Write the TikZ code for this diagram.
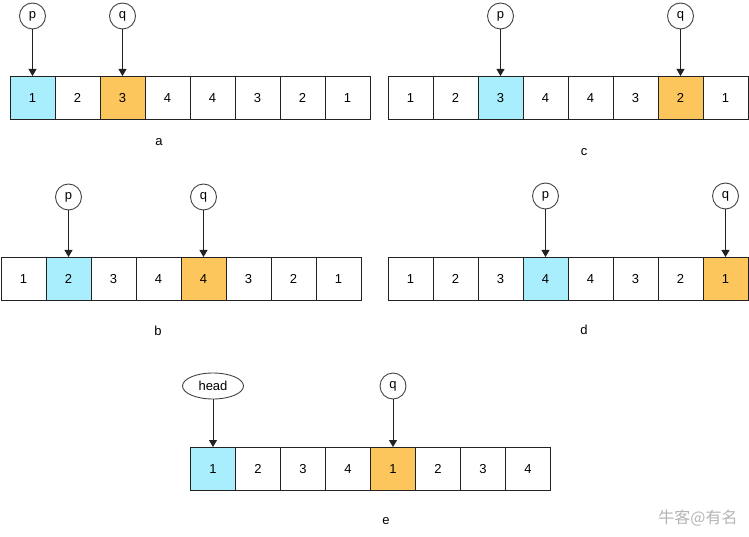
\documentclass[tikz,border=0pt]{standalone}
\usepackage{fontspec}
\setmainfont{Liberation Sans}
\newfontfamily\cjkfont{Noto Sans CJK SC}
\usetikzlibrary{arrows.meta, positioning, shapes.geometric}
\definecolor{ccyan}{HTML}{A9EEFC}
\definecolor{corange}{HTML}{FDC65D}
\definecolor{cline}{HTML}{222222}
\definecolor{cgrey}{HTML}{B4B4B4}
\tikzset{
  every picture/.style={font=\fontsize{13}{15}\selectfont, line width=0.9pt},
  cell/.style={draw=cline, fill=#1, minimum width=45pt, minimum height=43pt, inner sep=0pt, outer sep=0pt, text height=9.4pt, text depth=0pt},
  cell/.default=white,
  ptr/.style={circle, draw=cline!85, minimum size=26pt, inner sep=0pt, outer sep=0pt},
  headptr/.style={ellipse, draw=cline!85, minimum width=61pt, minimum height=26pt, inner sep=0pt, outer sep=0pt},
  arrow/.style={-{Triangle[length=7pt, width=8pt]}, draw=cline},
  caption/.style={font=\fontsize{13}{15}\selectfont},
}

\begin{document}
\begin{tikzpicture}[x=1pt, y=-1pt]
  \useasboundingbox (0,0) rectangle (749,537);
  % a
  \foreach \v/\c [count=\i] in {1/ccyan,2/white,3/corange,4/white,4/white,3/white,2/white,1/white}
    \node[cell=\c] (a\i) at ({10+45*\i-22.5},97.5) {\v};
  \node[ptr, above=47pt of a1] (pa) {p};
  \node[ptr, above=47pt of a3] (qa) {q};
  \draw[arrow] (pa) -- (a1);
  \draw[arrow] (qa) -- (a3);
  \node[caption] (la) at (159,142) {a};
  % c
  \foreach \v/\c [count=\i] in {1/white,2/white,3/ccyan,4/white,4/white,3/white,2/corange,1/white}
    \node[cell=\c] (c\i) at ({388+45*\i-22.5},97.5) {\v};
  \node[ptr, above=47pt of c3] (pc) {p};
  \node[ptr, above=47pt of c7] (qc) {q};
  \draw[arrow] (pc) -- (c3);
  \draw[arrow] (qc) -- (c7);
  \node[caption] (lc) at (584,152) {c};
  % b
  \foreach \v/\c [count=\i] in {1/white,2/ccyan,3/white,4/white,4/corange,3/white,2/white,1/white}
    \node[cell=\c] (b\i) at ({1+45*\i-22.5},278.5) {\v};
  \node[ptr, above=47pt of b2] (pb) {p};
  \node[ptr, above=47pt of b5] (qb) {q};
  \draw[arrow] (pb) -- (b2);
  \draw[arrow] (qb) -- (b5);
  \node[caption] (lb) at (158,331) {b};
  % d
  \foreach \v/\c [count=\i] in {1/white,2/white,3/white,4/ccyan,4/white,3/white,2/white,1/corange}
    \node[cell=\c] (d\i) at ({388+45*\i-22.5},278.5) {\v};
  \node[ptr, above=48pt of d4] (pd) {p};
  \node[ptr, above=48pt of d8] (qd) {q};
  \draw[arrow] (pd) -- (d4);
  \draw[arrow] (qd) -- (d8);
  \node[caption] (ld) at (584,330) {d};
  % e
  \foreach \v/\c [count=\i] in {1/ccyan,2/white,3/white,4/white,1/corange,2/white,3/white,4/white}
    \node[cell=\c] (e\i) at ({190.5+45*\i-22.5},468.5) {\v};
  \node[headptr, above=48pt of e1] (he) {head};
  \node[ptr, above=48pt of e5] (qe) {q};
  \draw[arrow] (he) -- (e1);
  \draw[arrow] (qe) -- (e5);
  \node[caption] (le) at (386,521) {e};
  % watermark
  \node[text=cgrey, font=\cjkfont\fontsize{16}{18}\selectfont] (wm) at (698,518) {牛客@有名};
\end{tikzpicture}
\end{document}
